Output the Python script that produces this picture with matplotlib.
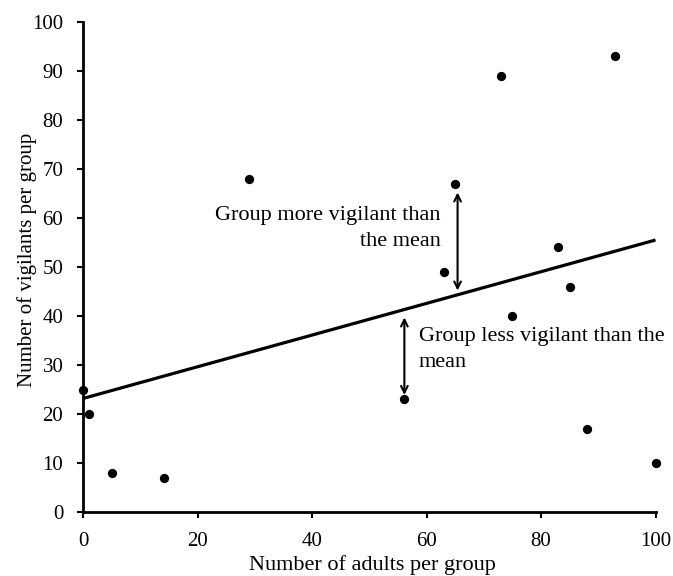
import numpy as np
import matplotlib.pyplot as plt

plt.rcParams['font.family'] = ['Liberation Serif', 'DejaVu Serif']

adults = [0, 1, 5, 14, 29, 56, 63, 65, 73, 75, 83, 85, 88, 93, 100]
vigilants = [25, 20, 8, 7, 68, 23, 49, 67, 89, 40, 54, 46, 17, 93, 10]

# fitted line
intercept = 23.2
slope = 0.323

fig = plt.figure(figsize=(6.73, 5.76), dpi=100)
ax = fig.add_axes([0.124, 0.111, 0.850, 0.851])

ax.scatter(adults, vigilants, s=32, color='black', zorder=3, clip_on=False)
xs = np.array([0, 100])
ax.plot(xs, intercept + slope * xs, color='black', lw=2.3, solid_capstyle='butt')

arrow = dict(arrowstyle='<->', color='black', lw=1.5, mutation_scale=12, shrinkA=0, shrinkB=0)
ax.annotate('', xy=(65.4, 65.2), xytext=(65.4, 45.2), arrowprops=arrow)
ax.annotate('', xy=(56.1, 39.7), xytext=(56.1, 23.9), arrowprops=arrow)

ax.text(62.4, 57.8, 'Group more vigilant than\nthe mean', ha='right', va='center',
        fontsize=16, linespacing=1.52)
ax.text(58.6, 33.2, 'Group less vigilant than the\nmean', ha='left', va='center',
        fontsize=16, linespacing=1.52)

ax.set_xlim(0, 100)
ax.set_ylim(0, 100)
ax.set_xticks(range(0, 101, 20))
ax.set_yticks(range(0, 101, 10))
ax.set_xlabel('Number of adults per group', fontsize=16, labelpad=3)
ax.set_ylabel('Number of vigilants per group', fontsize=15)
ax.xaxis.label.set_x(0.505)
ax.yaxis.set_label_coords(-0.082, 0.515)
ax.tick_params(labelsize=15, width=1.5, length=4.5, direction='out')
ax.tick_params(axis='x', pad=10)
ax.tick_params(axis='y', pad=10)
for s in ['top', 'right']:
    ax.spines[s].set_visible(False)
for s in ['left', 'bottom']:
    ax.spines[s].set_linewidth(2)

fig.savefig('out.png', dpi=100)
